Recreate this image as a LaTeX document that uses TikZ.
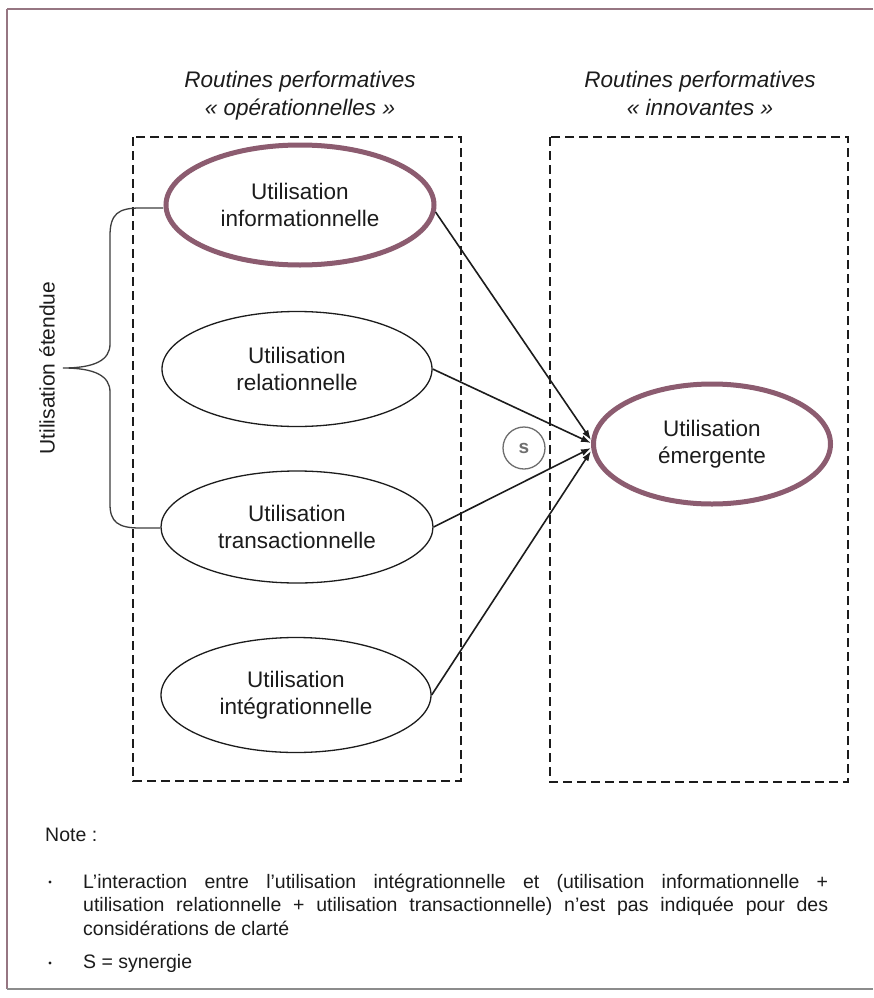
\documentclass[tikz,border=0pt]{standalone}
\usepackage{fontspec}
\setmainfont{Liberation Sans}
\usetikzlibrary{arrows.meta, shapes.geometric, calc}

\definecolor{mauve}{RGB}{140,92,112}
\definecolor{framecol}{RGB}{150,118,130}
\definecolor{ink}{RGB}{28,28,28}
\definecolor{soft}{RGB}{110,110,110}

\begin{document}
\begin{tikzpicture}[x=1pt, y=-1pt,
  usage/.style={ellipse, draw=ink, line width=1.3pt, inner sep=0pt,
    align=center, text=ink, font=\fontsize{22.5}{27}\selectfont},
  keyusage/.style={usage, draw=mauve, line width=5pt},
  title/.style={anchor=base, text=ink, inner sep=0pt,
    font=\fontsize{22.5}{27}\selectfont\itshape},
  zone/.style={draw=ink, line width=1.5pt, dash pattern=on 9pt off 5pt},
  conn/.style={draw=ink, line width=1.6pt, -{Latex[length=10pt, width=7pt]}},
  brace/.style={draw=ink!85, line width=1.3pt},
  notetext/.style={anchor=base west, inner sep=0pt, text=ink,
    font=\fontsize{19.5}{23.5}\selectfont},
  bulletdot/.style={circle, fill=ink, inner sep=0pt, minimum size=3.2pt}
]
  % page and frame
  \useasboundingbox (0,0) rectangle (873,998);
  \fill[white] (0,0) rectangle (873,998);
  \draw[framecol, line width=2pt] (7,9.5) -- (873,9.5);
  \draw[framecol, line width=2pt] (7,9.5) -- (7,989);
  \draw[black!45, line width=1.2pt] (7,989) -- (873,989);

  % column titles
  \node[title] (t1a) at (300,87)  {Routines performatives};
  \node[title] (t1b) at (300,115) {« opérationnelles »};
  \node[title] (t2a) at (700,87)  {Routines performatives};
  \node[title] (t2b) at (700,115) {« innovantes »};

  % dashed zones
  \draw[zone] (133,137) rectangle (461,781);
  \draw[zone] (550,137) rectangle (848,782);

  % usage ellipses
  \node[keyusage, minimum width=268pt, minimum height=120pt] (info) at (300,205)
    {Utilisation\\informationnelle};
  \node[usage, minimum width=270pt, minimum height=115pt] (rel) at (297,369)
    {Utilisation\\relationnelle};
  \node[usage, minimum width=272pt, minimum height=112pt] (trans) at (297,527)
    {Utilisation\\transactionnelle};
  \node[usage, minimum width=270pt, minimum height=115pt] (integ) at (296,695)
    {Utilisation\\intégrationnelle};
  \node[keyusage, minimum width=237pt, minimum height=120pt] (emg) at (712,444)
    {Utilisation\\émergente};

  % synergy marker
  \node[circle, draw=soft, line width=1.3pt, minimum size=42pt, inner sep=0pt,
        text=soft, font=\fontsize{19}{22}\selectfont\bfseries] (syn) at (524,448) {s};

  % connectors into the emergent usage
  \coordinate (e1) at ($(emg.west)+(0,-4)$);
  \coordinate (e2) at ($(emg.west)+(0,-1)$);
  \coordinate (e3) at ($(emg.west)+(0,4)$);
  \coordinate (e4) at ($(emg.west)+(0,7)$);
  \draw[conn] (info.-3) -- (e1);
  \draw[conn] (rel.east) -- (e2);
  \draw[conn] (trans.east) -- (e3);
  \draw[conn] (integ.east) -- (e4);

  % brace grouping the extended usages
  \coordinate (bt) at (163,208);
  \coordinate (bb) at (160,528);
  \coordinate (btip) at (63,368);
  \draw[brace] (bt) -- (140,208) .. controls (118,208) and (110,214) .. (110,236)
    -- (110,344) .. controls (110,360) and (95,368) .. (btip)
    .. controls (95,368) and (110,376) .. (110,392)
    -- (110,504) .. controls (110,522) and (118,528) .. (140,528) -- (bb);
  \node[rotate=90, text=ink, inner sep=0pt, font=\fontsize{21}{25}\selectfont]
    (ext) at (47,368) {Utilisation étendue};

  % notes
  \node[notetext] (note) at (45,841) {Note :};
  \node[bulletdot] (b1) at (50,882) {};
  \node[notetext, text width=745pt, align=justify] (n1) at (83,888)
    {\hyphenpenalty=10000 L’interaction entre l’utilisation intégrationnelle et (utilisation informationnelle +\linebreak
     utilisation relationnelle + utilisation transactionnelle) n’est pas indiquée pour des\linebreak
     considérations de clarté};
  \node[bulletdot] (b2) at (50,963) {};
  \node[notetext] (n2) at (83,968) {S = synergie};
\end{tikzpicture}
\end{document}
